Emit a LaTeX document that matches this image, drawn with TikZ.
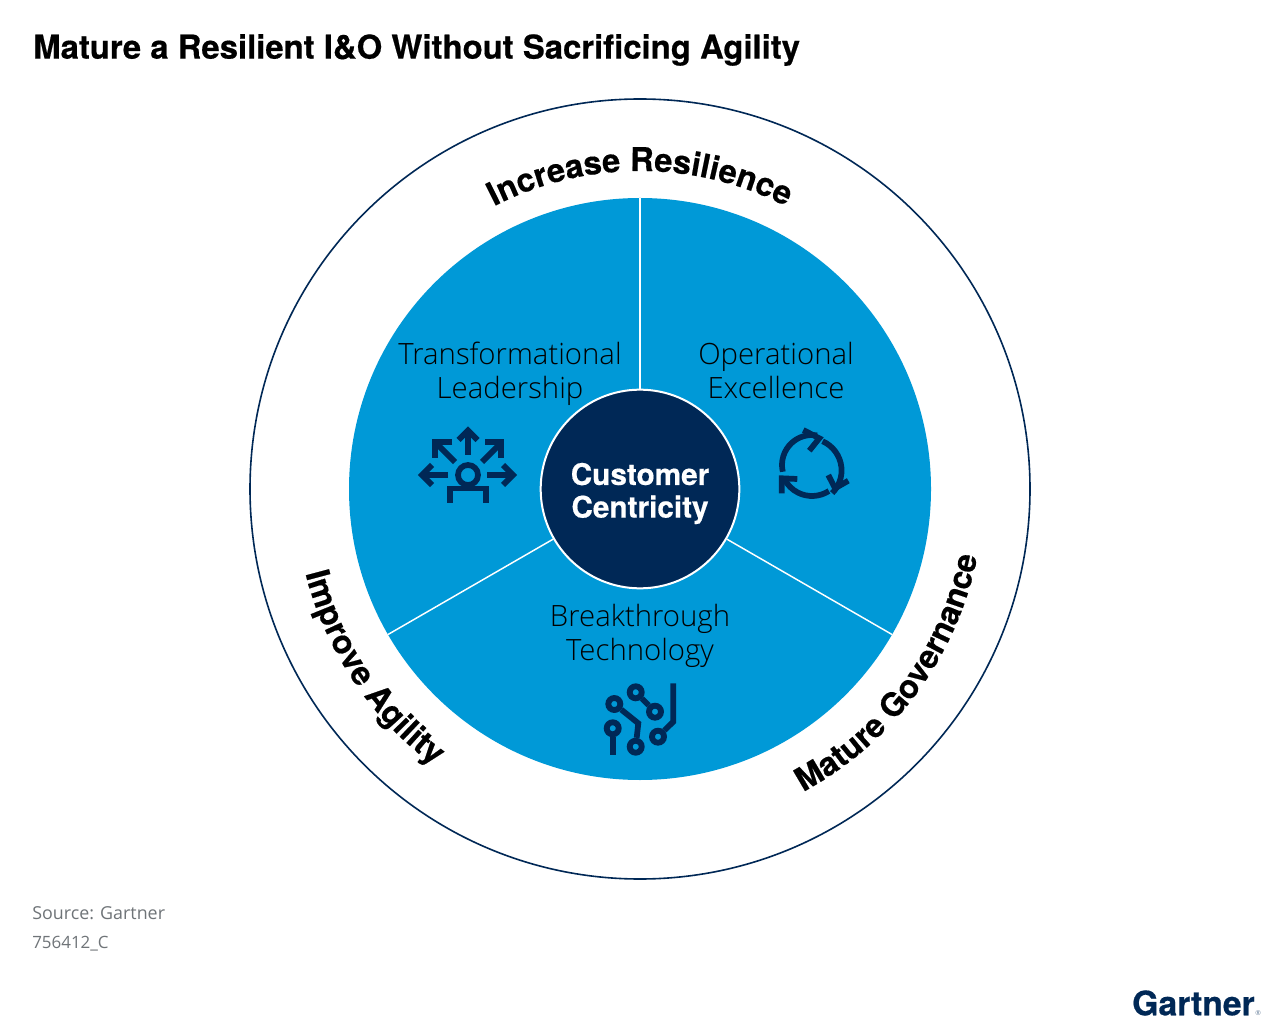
\documentclass[tikz,border=0pt]{standalone}
\usepackage{fontspec}
\usetikzlibrary{decorations.text}
\setmainfont{Open Sans}
\newfontfamily\titlefont{TeX Gyre Heros}[BoldFeatures={FakeBold=0.5}]
\newfontfamily\lightfont{Open Sans Light}
\definecolor{navy}{HTML}{002856}
\definecolor{sky}{HTML}{0099D7}
\definecolor{greytext}{HTML}{6F7478}
\tikzset{
  titletext/.style={anchor=west,font=\titlefont\bfseries\fontsize{24.65}{28}\selectfont,text=black,inner sep=0pt},
  sectorlabel/.style={align=center,font=\lightfont\fontsize{22}{25.5}\selectfont,text=black,inner sep=0pt},
  hublabel/.style={circle,fill=navy,draw=white,line width=1.5pt,minimum size=149pt,inner sep=0pt,align=center,text=white},
  hubtext/.style={align=center,text=white,inner sep=0pt,font=\titlefont\bfseries\fontsize{22.3}{25}\selectfont},
  sourcetext/.style={anchor=west,font=\fontsize{13.4}{16}\selectfont,text=greytext,inner sep=0pt},
  spoke/.style={draw=white,line width=1.1pt},
  icon/.style={draw=navy,line width=4.3pt,fill=none,line cap=butt,line join=miter},
  dot/.style={circle,draw=navy,line width=4.4pt,minimum size=9pt,inner sep=0pt,fill=none},
  curvedlabel/.style={decorate,decoration={text along path,text align=center,text={#1}}}
}
\begin{document}
\begin{tikzpicture}[x=0.75pt,y=0.75pt]
\useasboundingbox[fill=white] (0,0) rectangle (1280,1029);
\node[titletext] (title) at (33,979) {Mature a Resilient I\&O Without Sacrificing Agility};
\draw[navy,line width=1.2pt] (640,540) circle[radius=390];
\fill[sky] (640,540) circle[radius=291];
\coordinate (rimA) at (640,831);
\coordinate (rimB) at (388,394.5);
\coordinate (rimC) at (892,394.5);
\node[hublabel] (hub) at (640,540) {};
\node[hubtext] (hubt) at (640,535.5) {Customer\\[-0.5pt]Centricity};
\draw[spoke] (rimA) -- (hub.90);
\draw[spoke] (rimB) -- (hub.210);
\draw[spoke] (rimC) -- (hub.330);
\node[sectorlabel] (lead) at (510,655.5) {Transformational\\Leadership};
\node[sectorlabel] (oper) at (776,658) {Operational\\Excellence};
\node[sectorlabel] (tech) at (640,393.5) {Breakthrough\\Technology};
\path[curvedlabel={|\titlefont\bfseries\fontsize{24.5}{28}\selectfont|Increase Resilience}]
  (640,540) ++(135:318) arc[start angle=135,end angle=45,radius=318];
\path[curvedlabel={|\titlefont\bfseries\fontsize{24.3}{28}\selectfont|Mature Governance}]
  (640,540) ++(-76.5:344) arc[start angle=-76.5,end angle=3.5,radius=344];
\path[curvedlabel={|\titlefont\bfseries\fontsize{24.5}{28}\selectfont|Improve Agility}]
  (640,540) ++(175:345) arc[start angle=175,end angle=252.5,radius=345];
% leadership icon
\begin{scope}[shift={(468,554)},yscale=-1]
 \draw[icon] (0,0) circle[radius=10];
 \draw[icon] (-18,28) -- (-18,13.5) -- (18,13.5) -- (18,28);
 \draw[icon] (0,-20) -- (0,-44);
 \draw[icon] (-9.5,-35) -- (0,-44.5) -- (9.5,-35);
 \draw[icon] (-20,0) -- (-44,0);
 \draw[icon] (-36,-10) -- (-46,0) -- (-36,10);
 \draw[icon] (19,0) -- (45,0);
 \draw[icon] (35,-10) -- (45,0) -- (35,10);
 \draw[icon] (-13,-13) -- (-31,-31);
 \draw[icon] (-16,-33) -- (-33,-33) -- (-33,-17);
 \draw[icon] (14,-13) -- (32,-31);
 \draw[icon] (17,-33) -- (33,-33) -- (33,-17);
\end{scope}
% cycle icon
\begin{scope}[shift={(812,564)}]
 \draw[icon] (193:30) arc[start angle=193,end angle=80,radius=30];
 \draw[icon] (-8.7,35) -- (7.3,26.7) -- (-2.7,14.3);
 \draw[icon] (66:26) arc[start angle=66,end angle=-45,radius=32];
 \draw[icon] (16.3,-10) -- (23,-23.3) -- (36.3,-15.7);
 \draw[icon] (-57:31) arc[start angle=-57,end angle=-152,radius=31];
 \draw[icon] (-14.7,-14) -- (-30.3,-13.3) -- (-30.3,-28.3);
\end{scope}
% circuit icon
\node[dot] (c1) at (635.7,336.7) {};
\node[dot] (c2) at (655,317.3) {};
\node[dot] (c3) at (614.3,325) {};
\node[dot] (c4) at (612.7,300.7) {};
\node[dot] (c5) at (635.7,282.3) {};
\node[dot] (c6) at (658,292.3) {};
\coordinate (e3) at (638.3,305.7);
\coordinate (e4) at (612.7,274);
\coordinate (e6a) at (673.3,307.3);
\coordinate (e6b) at (673.3,345.7);
\draw[icon] (c1) -- (c2);
\draw[icon] (c3) -- (e3) -- (c5);
\draw[icon] (c4) -- (e4);
\draw[icon] (c6) -- (e6a) -- (e6b);
\node[sourcetext] (src) at (32,116) {Source: Gartner};
\node[sourcetext,font=\fontsize{12.7}{16}\selectfont] (num) at (32,85) {756412\_C};
\node[anchor=east,inner sep=0pt,font=\titlefont\bfseries\fontsize{25.3}{30}\selectfont,text=navy] (logo) at (1255,26) {Gartner};
\node[anchor=base west,inner sep=0pt,font=\fontsize{5}{6}\selectfont,text=navy!60] (reg) at (logo.base east) {®};
\end{tikzpicture}
\end{document}
